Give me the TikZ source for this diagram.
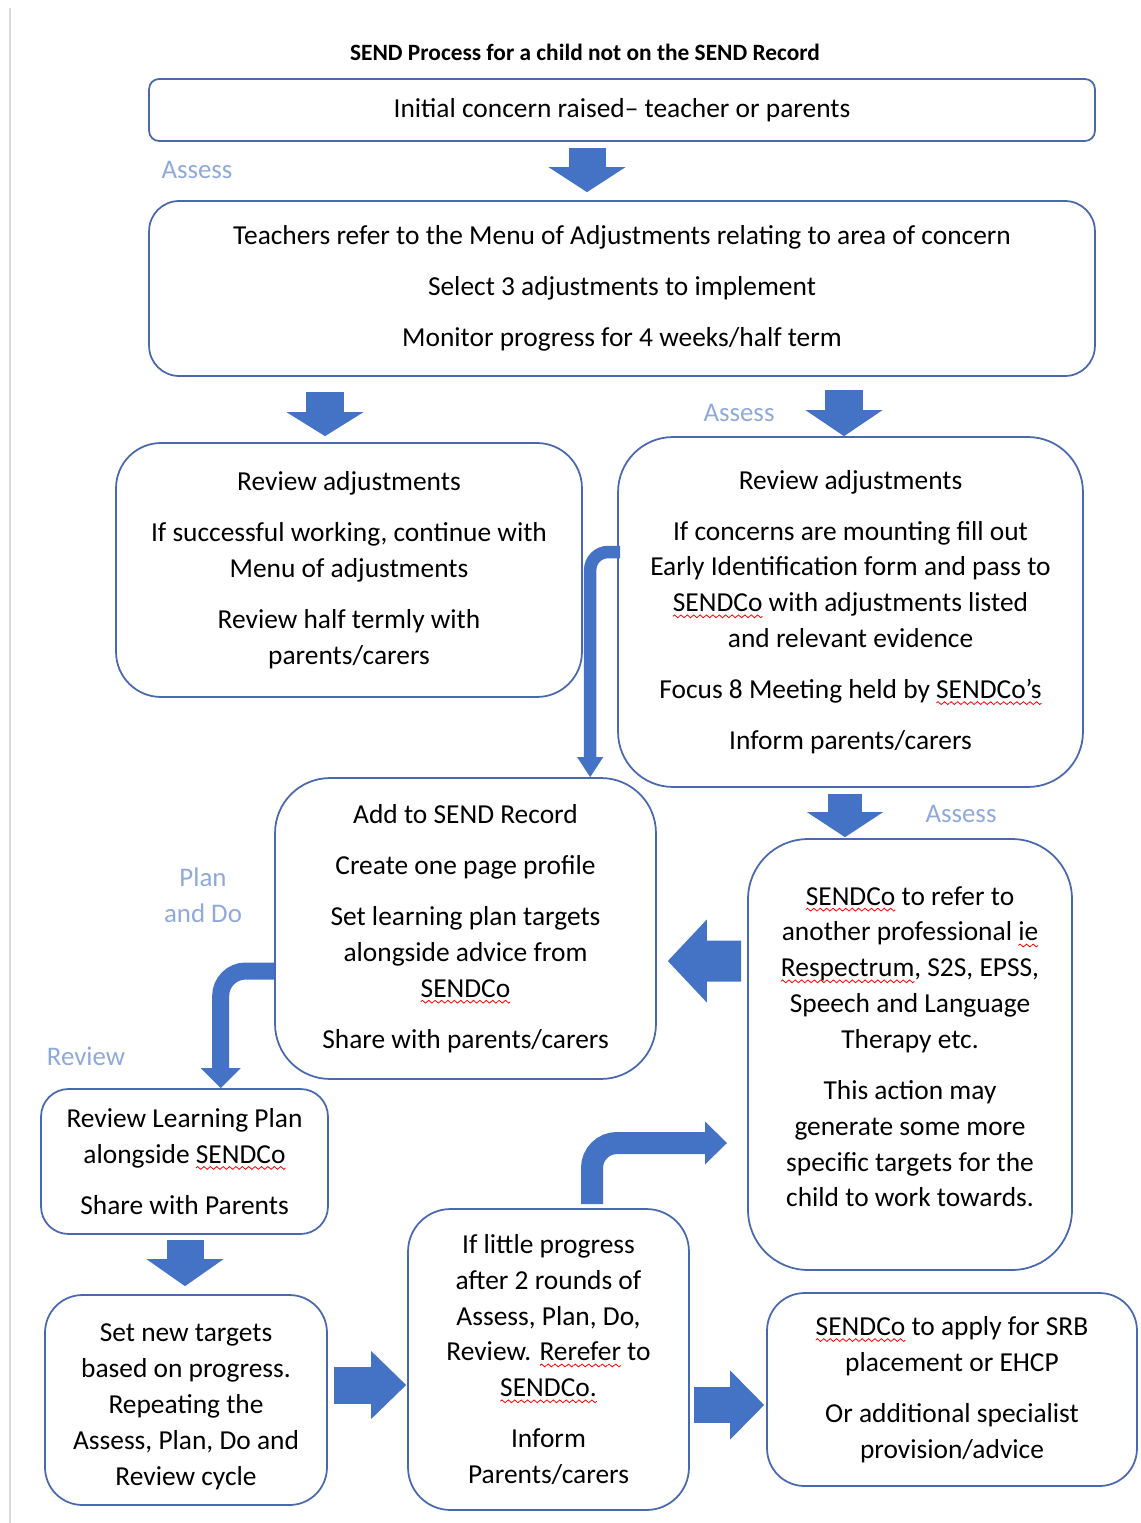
\documentclass[tikz,border=0pt]{standalone}
\usepackage{fontspec}
\setmainfont{Carlito}
\usetikzlibrary{arrows.meta,calc}
\definecolor{boxblue}{RGB}{72,104,176}
\definecolor{arrowblue}{RGB}{68,114,196}
\definecolor{stagecol}{RGB}{142,170,219}
\newsavebox\wavebox
\newsavebox\splbox
\newcommand\spl[1]{\sbox\splbox{#1}\leavevmode\rlap{\raisebox{-3.6pt}{\hbox to\wd\splbox{\xleaders\copy\wavebox\hfil}}}\usebox\splbox}
\tikzset{
  box/.style={draw=boxblue, line width=1pt, align=center, inner sep=0pt, font=\fontsize{15.6}{20.4}\selectfont},
  stage/.style={text=stagecol, align=center, font=\fontsize{15.3}{20.4}\selectfont},
  blockarrow/.style n args={3}{draw=arrowblue, line width=#1, -{Triangle[width=#2,length=#3,line width=0pt]}},
  bentarrow/.style n args={4}{blockarrow={#1}{#2}{#3}, rounded corners=#4}
}
\begin{document}
\sbox\wavebox{\pgfpicture\pgfsetstrokecolor{red}\pgfsetlinewidth{0.45pt}%
  \pgfpathmoveto{\pgfpoint{0pt}{0pt}}%
  \pgfpathsine{\pgfpoint{0.9pt}{0.8pt}}\pgfpathcosine{\pgfpoint{0.9pt}{-0.8pt}}%
  \pgfpathsine{\pgfpoint{0.9pt}{-0.8pt}}\pgfpathcosine{\pgfpoint{0.9pt}{0.8pt}}%
  \pgfusepath{stroke}\pgfresetboundingbox
  \pgfpathrectangle{\pgfpoint{0pt}{-1pt}}{\pgfpoint{3.6pt}{2pt}}\pgfusepath{use as bounding box}\endpgfpicture}%
\begin{tikzpicture}[x=0.02cm, y=-0.02cm]
\useasboundingbox (0,0) rectangle (1140,1523);
\draw[black!15, line width=1.5pt] (10,8) -- (10,1523);

\node[font=\bfseries\fontsize{13.3}{16}\selectfont] (title) at (585,52) {SEND Process for a child not on the SEND Record};

\node[box, rounded corners=0.2cm, minimum width=18.92cm, minimum height=1.24cm] (init) at (622,110) {Initial concern raised– teacher or parents};
\node[box, rounded corners=0.6cm, minimum width=18.92cm, minimum height=3.5cm] (teach) at (622,288.5) {Teachers refer to the Menu of Adjustments relating to area of concern\\[8.6pt] Select 3 adjustments to implement\\[8.6pt] Monitor progress for 4 weeks/half term};
\node[box, rounded corners=0.9cm, minimum width=9.32cm, minimum height=5.08cm] (revok) at (349,570) {Review adjustments\\[8.6pt] If successful working, continue with\\ Menu of adjustments\\[8.6pt] Review half termly with\\ parents/carers};
\node[box, rounded corners=1.1cm, minimum width=9.3cm, minimum height=7cm] (revcon) at (850.5,612) {Review adjustments\\[8.6pt] If concerns are mounting fill out\\ Early Identification form and pass to\\ \spl{SENDCo} with adjustments listed\\ and relevant evidence\\[8.6pt] Focus 8 Meeting held by \spl{SENDCo’s}\\[8.6pt] Inform parents/carers};
\node[box, rounded corners=1.1cm, minimum width=7.62cm, minimum height=6.02cm] (addrec) at (465.5,928.5) {Add to SEND Record\\[8.6pt] Create one page profile\\[8.6pt] Set learning plan targets\\ alongside advice from\\ \spl{SENDCo}\\[8.6pt] Share with parents/carers};
\node[box, rounded corners=1.2cm, minimum width=6.48cm, minimum height=8.62cm] (refer) at (910,1054.5) {\spl{SENDCo} to refer to\\ another professional \spl{ie}\\ \spl{Respectrum}, S2S, EPSS,\\ Speech and Language\\ Therapy etc.\\[8.6pt] This action may\\ generate some more\\ specific targets for the\\ child to work towards.\\[-11.4pt]\mbox{}};
\node[box, rounded corners=0.55cm, minimum width=5.74cm, minimum height=2.9cm] (revplan) at (184.5,1161.5) {Review Learning Plan\\ alongside \spl{SENDCo}\\[8.6pt] Share with Parents};
\node[box, rounded corners=0.75cm, minimum width=5.64cm, minimum height=4.2cm] (newtgt) at (186,1400) {\mbox{}\\[-2.6pt]Set new targets\\ based on progress.\\ Repeating the\\ Assess, Plan, Do and\\ Review cycle};
\node[box, rounded corners=0.85cm, minimum width=5.62cm, minimum height=6.02cm] (little) at (548.5,1359.5) {If little progress\\ after 2 rounds of\\ Assess, Plan, Do,\\ Review. \spl{Rerefer} to\\ \spl{SENDCo.}\\[8.6pt] Inform\\ Parents/carers};
\node[box, rounded corners=0.75cm, minimum width=7.4cm, minimum height=3.86cm] (apply) at (952,1389.5) {\spl{SENDCo} to apply for SRB\\ placement or EHCP\\[8.6pt] Or additional specialist\\ provision/advice};

\node[stage] (assessa) at (197,170) {Assess};
\node[stage] (assessb) at (739,413) {Assess};
\node[stage] (assessc) at (961,814) {Assess};
\node[stage] (plando) at (203,895) {Plan\\and Do};
\node[stage] (review) at (86,1056) {Review};

\draw[blockarrow={0.74cm}{1.54cm}{0.5cm}] ($(init.south)+(-35,6)$) -- ($(teach.north)+(-35,-8)$);
\draw[blockarrow={0.76cm}{1.54cm}{0.48cm}] ($(teach.south -| revok.north)+(-24,15)$) -- ($(revok.north)+(-24,-6)$);
\draw[blockarrow={0.76cm}{1.54cm}{0.52cm}] ($(teach.south -| revcon.north)+(-6.5,13)$) -- ($(revcon.north)+(-6.5,0)$);
\draw[blockarrow={0.68cm}{1.52cm}{0.5cm}] ($(revcon.south)+(-5.5,6)$) -- ($(refer.north -| revcon.south)+(-5.5,-1)$);
\draw[blockarrow={0.82cm}{1.66cm}{0.78cm}] ($(refer.west)+(-6,-93.5)$) -- ($(addrec.east)+(11,32.5)$);
\draw[blockarrow={0.74cm}{1.54cm}{0.54cm}] ($(revplan.south)+(0.5,5)$) -- ($(newtgt.north -| revplan.south)+(0.5,-8)$);
\draw[blockarrow={0.74cm}{1.36cm}{0.7cm}] ($(newtgt.east)+(6,-15)$) -- ($(little.west |- newtgt.east)+(-1,-15)$);
\draw[blockarrow={0.72cm}{1.38cm}{0.68cm}] ($(little.east)+(4,45.5)$) -- ($(apply.west |- little.east)+(-2,45.5)$);

\draw[bentarrow={0.25cm}{0.52cm}{0.4cm}{0.36cm}] ($(revcon.west)+(3,-60)$) -| ($(addrec.north -| revcon.west)+(-27,0)$);
\draw[bentarrow={0.34cm}{0.8cm}{0.4cm}{0.5cm}] ($(addrec.west)+(0,42.5)$) -| ($(revplan.north -| addrec.west)+(-53.5,0)$);
\coordinate (kend) at (727,1143);
\draw[bentarrow={0.44cm}{0.86cm}{0.44cm}{0.5cm}] ($(little.north)+(43.5,-4)$) |- (kend);
\end{tikzpicture}
\end{document}
